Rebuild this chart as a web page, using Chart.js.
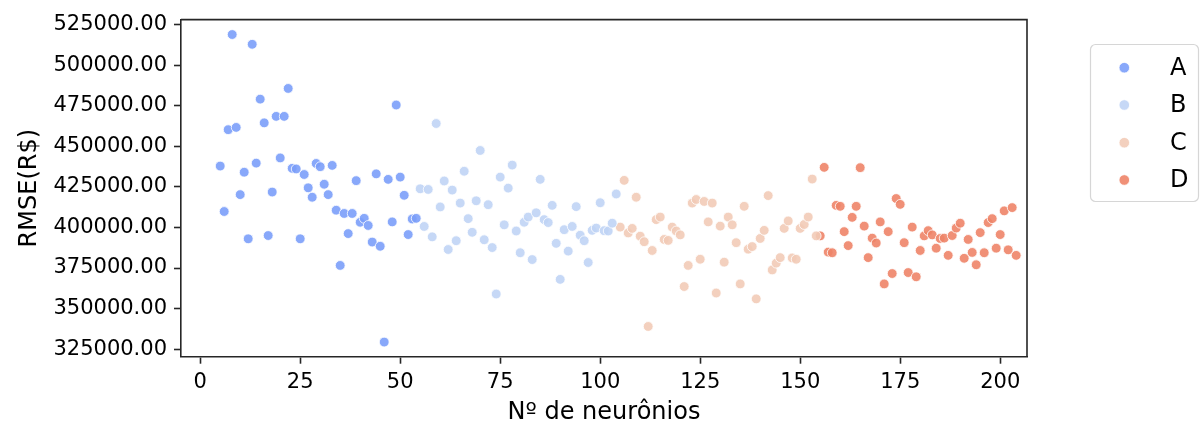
<!DOCTYPE html>
<html>
<head>
<meta charset="utf-8">
<script src="https://cdn.jsdelivr.net/npm/chart.js@4.4.1/dist/chart.umd.min.js"></script>
<style>
  html, body { margin: 0; padding: 0; background: #ffffff; }
  #wrap { width: 1200px; height: 434px; position: relative; }
</style>
</head>
<body>
<div id="wrap"><canvas id="chart" width="1200" height="434"></canvas></div>
<script>
// Number of hidden neurons tried, grouped in four bands
const neuronsA = [5,6,7,8,9,10,11,12,13,14,15,16,17,18,19,20,21,22,23,24,25,26,27,28,29,30,31,32,33,34,35,36,37,38,39,40,41,42,43,44,45,46,47,48,49,50,51,52,53,54];
const neuronsB = [55,56,57,58,59,60,61,62,63,64,65,66,67,68,69,70,71,72,73,74,75,76,77,78,79,80,81,82,83,84,85,86,87,88,89,90,91,92,93,94,95,96,97,98,99,100,101,102,103,104];
const neuronsC = [105,106,107,108,109,110,111,112,113,114,115,116,117,118,119,120,121,122,123,124,125,126,127,128,129,130,131,132,133,134,135,136,137,138,139,140,141,142,143,144,145,146,147,148,149,150,151,152,153,154];
const neuronsD = [155,156,157,158,159,160,161,162,163,164,165,166,167,168,169,170,171,172,173,174,175,176,177,178,179,180,181,182,183,184,185,186,187,188,189,190,191,192,193,194,195,196,197,198,199,200,201,202,203,204];

// RMSE (R$) obtained for each network size
const rmseA = [437800,409800,460200,518800,461600,420200,434000,393000,512800,439600,479000,464400,395000,421800,468400,442800,468400,485600,436400,436000,393000,432600,424400,418600,439400,437400,426600,420200,438200,410600,376600,408600,396200,408600,428800,403200,405600,401200,391000,433000,388400,329400,429600,403400,475400,431000,419800,395600,405200,405600];
const rmseB = [423800,400600,423400,394200,464000,412600,428600,386400,423000,391800,415000,434600,405400,397000,416400,447400,392400,414000,387600,359000,431000,401600,424200,438400,397800,384400,403200,406400,380200,409000,429600,404800,403000,413600,390200,368000,398600,385400,400600,412800,395200,391800,378400,398200,399600,415200,398000,397800,402600,420600];
const rmseC = [400200,429000,396600,399400,418600,394600,391200,339000,385800,404800,406400,392600,392000,400200,397800,395400,363600,376600,415000,417200,380400,416000,403400,415000,359600,400800,378600,406400,401600,390600,365200,413000,386600,388200,356000,393200,398200,419600,373800,378000,381400,399400,404000,381200,380400,399400,401800,406400,429800,394800];
const rmseD = [394800,437000,384800,384400,413600,413000,397400,388800,406200,413000,436800,400800,381400,393400,390400,403400,365200,397400,371600,417800,414200,390600,372200,400200,369600,385800,394800,398000,395400,387200,393200,393400,382800,395000,399600,402600,381000,392600,384600,377000,396800,384400,403000,405400,387200,395600,410200,386200,412200,382800];

const groupNames = ['A', 'B', 'C', 'D'];
const groupColors = ['rgba(123,159,249,0.9)', 'rgba(192,212,245,0.9)', 'rgba(242,203,183,0.9)', 'rgba(238,132,104,0.9)'];

const xTicks = [0, 25, 50, 75, 100, 125, 150, 175, 200];
const yTicks = [325000, 350000, 375000, 400000, 425000, 450000, 475000, 500000, 525000];

const FONT = "'DejaVu Sans', sans-serif";
const INK = '#262626';

function toPoints(xs, ys) {
  return xs.map((x, i) => ({ x: x, y: ys[i] }));
}

const groups = [
  [neuronsA, rmseA],
  [neuronsB, rmseB],
  [neuronsC, rmseC],
  [neuronsD, rmseD]
];

const datasets = groups.map((g, i) => ({
  label: groupNames[i],
  data: toPoints(g[0], g[1]),
  backgroundColor: groupColors[i],
  borderColor: '#ffffff',
  borderWidth: 0.8,
  pointRadius: 4.9,
  pointHoverRadius: 4.9
}));

// Closes the axes box on the top and right sides
const frameBox = {
  id: 'frameBox',
  afterDraw(chart) {
    const { ctx, chartArea: a } = chart;
    ctx.save();
    ctx.strokeStyle = INK;
    ctx.lineWidth = 1.6;
    ctx.beginPath();
    ctx.moveTo(a.left, a.top);
    ctx.lineTo(a.right, a.top);
    ctx.lineTo(a.right, a.bottom);
    ctx.stroke();
    ctx.restore();
  }
};

// Legend panel to the right of the axes
const sideLegend = {
  id: 'sideLegend',
  afterDraw(chart) {
    const { ctx } = chart;
    const box = { x: 1090.5, y: 44.5, w: 108, h: 157, r: 5 };
    ctx.save();
    ctx.beginPath();
    ctx.roundRect(box.x, box.y, box.w, box.h, box.r);
    ctx.fillStyle = 'rgba(255,255,255,0.8)';
    ctx.fill();
    ctx.strokeStyle = '#d6d6d6';
    ctx.lineWidth = 1.2;
    ctx.stroke();
    const rows = [67.7, 105, 142.7, 180];
    ctx.font = '24px ' + FONT;
    ctx.textBaseline = 'middle';
    ctx.textAlign = 'left';
    groupNames.forEach((name, i) => {
      ctx.beginPath();
      ctx.arc(1124.3, rows[i], 5.3, 0, Math.PI * 2);
      ctx.fillStyle = groupColors[i];
      ctx.fill();
      ctx.strokeStyle = '#ffffff';
      ctx.lineWidth = 0.8;
      ctx.stroke();
      ctx.fillStyle = '#000000';
      ctx.fillText(name, 1170, rows[i] + 1);
    });
    ctx.restore();
  }
};

new Chart(document.getElementById('chart'), {
  type: 'scatter',
  data: { datasets: datasets },
  options: {
    responsive: false,
    animation: false,
    devicePixelRatio: 1,
    layout: { padding: { left: 0, top: 10.7, right: 173, bottom: 0 } },
    plugins: {
      legend: { display: false },
      tooltip: { enabled: false }
    },
    scales: {
      x: {
        type: 'linear',
        min: -4.8,
        max: 206.7,
        afterBuildTicks: s => { s.ticks = xTicks.map(v => ({ value: v })); },
        afterFit: s => { s.height = 434 - 356.7; },
        ticks: {
          font: { family: FONT, size: 21 },
          color: '#000000',
          padding: 6,
          maxRotation: 0,
          autoSkip: false
        },
        grid: {
          drawOnChartArea: false,
          drawTicks: true,
          tickLength: 7,
          tickColor: INK,
          tickWidth: 1.6
        },
        border: { display: true, color: INK, width: 1.6 },
        title: {
          display: true,
          text: 'Nº de neurônios',
          font: { family: FONT, size: 24 },
          color: '#000000',
          padding: { top: 0, bottom: 6.6 }
        }
      },
      y: {
        type: 'linear',
        min: 320380,
        max: 528000,
        afterBuildTicks: s => { s.ticks = yTicks.map(v => ({ value: v })); },
        afterFit: s => { s.width = 181; },
        ticks: {
          font: { family: FONT, size: 21 },
          color: '#000000',
          padding: 7,
          callback: v => Number(v).toFixed(2)
        },
        grid: {
          drawOnChartArea: false,
          drawTicks: true,
          tickLength: 7,
          tickColor: INK,
          tickWidth: 1.6
        },
        border: { display: true, color: INK, width: 1.6 },
        title: {
          display: true,
          text: 'RMSE(R$)',
          font: { family: FONT, size: 24 },
          color: '#000000',
          padding: { top: 15.6, bottom: 0 }
        }
      }
    }
  },
  plugins: [frameBox, sideLegend]
});
</script>
</body>
</html>
